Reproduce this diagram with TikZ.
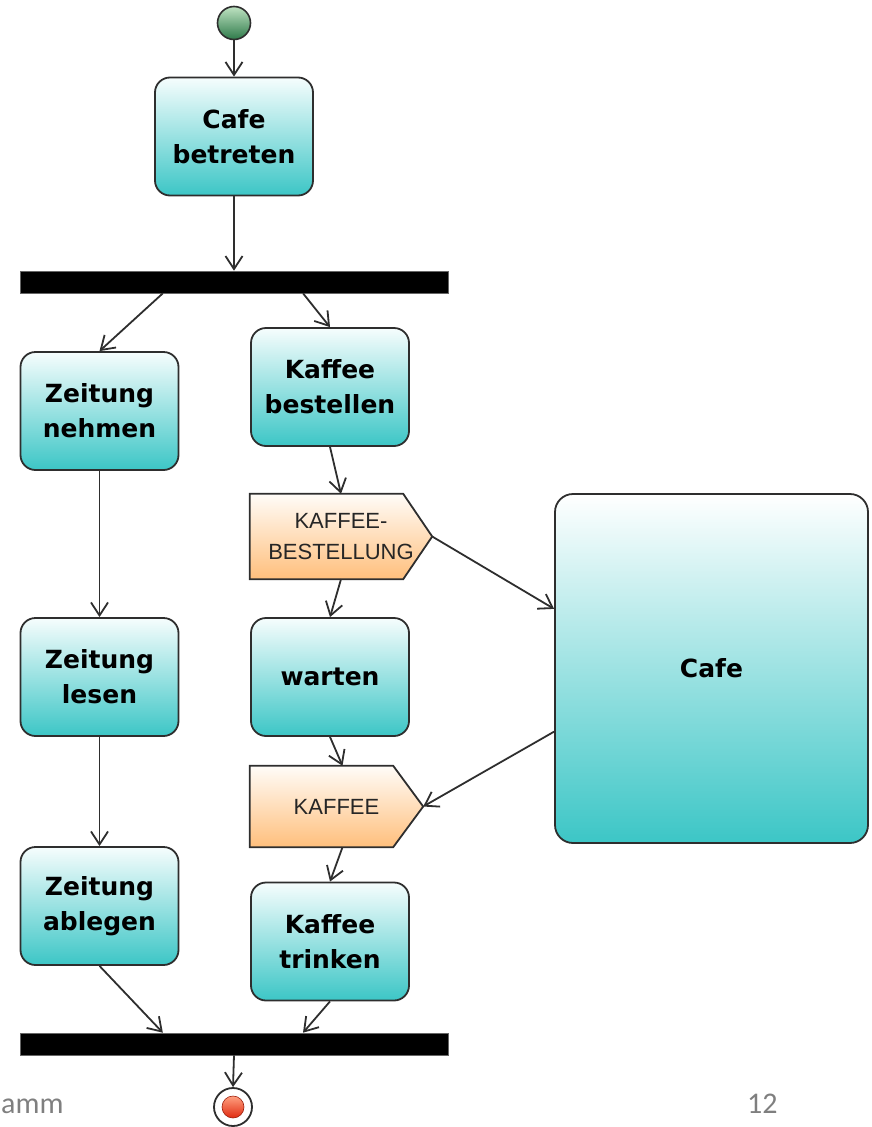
\documentclass[tikz,border=0pt]{standalone}
\usepackage{fontspec}
\setmainfont{DejaVu Sans}
\newfontfamily\objfont{Liberation Sans}
\newfontfamily\footfont{Carlito}
\usetikzlibrary{arrows.meta,calc,backgrounds}

\definecolor{edgecol}{HTML}{2E2E2E}
\definecolor{tealtop}{HTML}{F6FDFD}
\definecolor{tealbot}{HTML}{3CC6C6}
\definecolor{ortop}{HTML}{FFFCF8}
\definecolor{orbot}{HTML}{FFBF7C}
\definecolor{greentop}{HTML}{BFE3C2}
\definecolor{greenbot}{HTML}{2E7A4A}
\definecolor{redtop}{HTML}{FFA080}
\definecolor{redbot}{HTML}{E02A10}
\definecolor{footgray}{HTML}{7F7F7F}

\tikzset{
  act/.style={draw=edgecol, line width=1.8pt, rounded corners=15pt,
    minimum width=158pt, minimum height=118pt, inner sep=0pt,
    top color=tealtop, bottom color=tealbot, align=center,
    font=\fontsize{25}{35}\selectfont\bfseries},
  bigbox/.style={draw=edgecol, line width=1.8pt, rounded corners=18pt,
    minimum width=313pt, minimum height=349pt, inner sep=0pt,
    top color=white, bottom color=tealbot,
    font=\fontsize{25}{35}\selectfont\bfseries},
  syncbar/.style={fill=black, draw=black!60, line width=0.6pt,
    minimum width=428pt, minimum height=22pt, inner sep=0pt},
  objtext/.style={inner sep=0pt, align=center, text=black!85,
    font=\objfont\fontsize{22}{31}\selectfont},
  objshape/.style={draw=edgecol, line width=1.8pt, line join=miter,
    top color=ortop, bottom color=orbot},
  flow/.style={draw=edgecol, line width=1.8pt,
    -{Straight Barb[length=13pt,width=17pt,line width=1.8pt]}},
  footer/.style={inner sep=0pt, text=footgray,
    font=\footfont\fontsize{30}{36}\selectfont},
}

\begin{document}
\begin{tikzpicture}[x=1pt,y=-1pt]
\useasboundingbox (0,0) rectangle (871,1127);

% initial and final nodes
\node[circle, draw=edgecol, line width=1.6pt, minimum size=33pt, inner sep=0pt,
      top color=greentop, bottom color=greenbot] (start) at (234,23) {};
\node[circle, draw=edgecol, line width=1.8pt, minimum size=38pt, inner sep=0pt,
      fill=white] (end) at (233,1107) {};
\node[circle, draw=redbot!70!black, line width=0.6pt, minimum size=22pt, inner sep=0pt,
      top color=redtop, bottom color=redbot] (enddot) at (end.center) {};

% actions
\node[act] (cb)  at (234,136.5)   {Cafe\\betreten};
\node[act] (zn)  at (99.5,411)    {Zeitung\\nehmen};
\node[act] (kbs) at (330,387)     {Kaffee\\bestellen};
\node[act] (zl)  at (99.5,677)    {Zeitung\\lesen};
\node[act] (wa)  at (330,677)     {warten};
\node[act] (za)  at (99.5,906)    {Zeitung\\ablegen};
\node[act] (kt)  at (330,941.5)   {Kaffee\\trinken};

% partner
\node[bigbox] (cafe) at (711.5,668.5) {Cafe};

% fork and join bars
\node[syncbar] (bar1) at (234,282) {};
\node[syncbar] (bar2) at (234,1044) {};

% object nodes
\node[objtext, minimum width=182pt, minimum height=85pt] (kb) at (341,536.5)
  {KAFFEE-\\BESTELLUNG};
\node[objtext, minimum width=173pt, minimum height=81pt] (kf) at (336.5,806.5)
  {KAFFEE};
\begin{pgfonlayer}{background}
  \path[objshape] (kb.north west) -- ($(kb.north east)+(-29,0)$) -- (kb.east)
    -- ($(kb.south east)+(-29,0)$) -- (kb.south west) -- cycle;
  \path[objshape] (kf.north west) -- ($(kf.north east)+(-30,0)$) -- (kf.east)
    -- ($(kf.south east)+(-30,0)$) -- (kf.south west) -- cycle;
\end{pgfonlayer}

% control and object flows
\draw[flow] (start.south) -- (cb.north);
\draw[flow] (cb.south) -- (bar1.north);
\draw[flow] ($(bar1.south west)!0.334!(bar1.south east)$) -- (zn.north);
\draw[flow] ($(bar1.south west)!0.661!(bar1.south east)$) -- (kbs.north);
\draw[flow] (zn.south) -- (zl.north);
\draw[flow] (zl.south) -- (za.north);
\draw[flow] (kbs.south) -- (kb.north);
\draw[flow] (kb.south) -- (wa.north);
\draw[flow] (kb.east) -- ($(cafe.north west)!0.33!(cafe.south west)$);
\draw[flow] ($(cafe.north west)!0.68!(cafe.south west)$) -- (kf.east);
\draw[flow] (wa.south) -- ($(kf.north)+(6,0)$);
\draw[flow] ($(kf.south)+(6,0)$) -- (kt.north);
\draw[flow] (za.south) -- ($(bar2.north west)!0.334!(bar2.north east)$);
\draw[flow] (kt.south) -- ($(bar2.north west)!0.661!(bar2.north east)$);
\draw[flow] (bar2.south) -- (end.north);

% slide footer
\node[footer, anchor=base west] (ftitle) at (1,1113) {amm};
\node[footer, anchor=base west] (fpage) at (747,1113) {12};
\end{tikzpicture}
\end{document}
